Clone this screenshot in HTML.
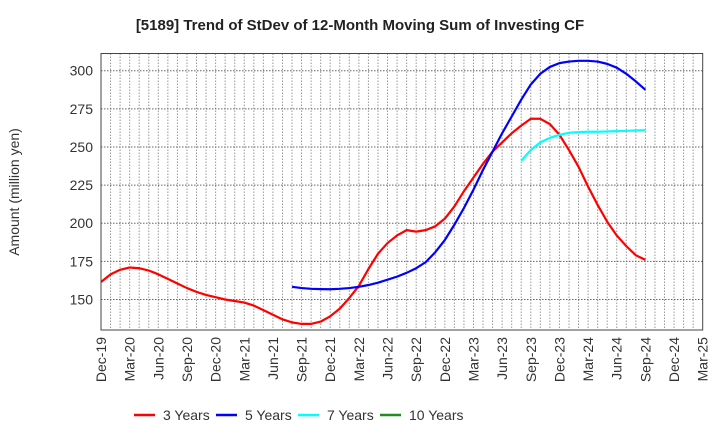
<!DOCTYPE html>
<html><head><meta charset="utf-8"><style>
body{margin:0;background:#fff;font-family:"Liberation Sans",sans-serif}
</style></head><body>
<svg id="c" width="720" height="440" xmlns="http://www.w3.org/2000/svg" font-family="Liberation Sans, sans-serif"></svg>
<script>
const tickLabels=["Dec-19","Mar-20","Jun-20","Sep-20","Dec-20","Mar-21","Jun-21","Sep-21","Dec-21","Mar-22","Jun-22","Sep-22","Dec-22","Mar-23","Jun-23","Sep-23","Dec-23","Mar-24","Jun-24","Sep-24","Dec-24","Mar-25"];
const yTicks=[150,175,200,225,250,275,300];
const s3Start=0;
const s3=[161.5,166.5,169.5,171,170.5,169,166.5,163.5,160.5,157.5,155,153,151.5,150,149,148,146,143,140,137,135,134,134,135.5,139,144,151,159,170,180,187,192,195.5,194.5,195.5,198,203,211,221,230,239,247,253,259,264,268.5,268.5,265,258,248,237,224,212,201,192,185,179,176];
const s5Start=20;
const s5=[158.3,157.5,157,156.8,156.7,157,157.5,158.3,159.5,161,163,165,167.5,170.5,174.5,181,189,199,210,222,235,247,259,270,281,291,298,302.5,305,306,306.5,306.5,306,304.5,302,298,293,287.5];
const s7Start=44;
const s7=[241,248,253,256,258,259.3,259.8,260,260,260.2,260.4,260.6,260.8,261];
const s10Start=0;
const s10=[];
const NS="http://www.w3.org/2000/svg";
const svg=document.getElementById('c');
const L=101,R=702.7,T=53.5,B=330,nMonths=63,yMin=130,yMax=311.3;
const x=m=>L+(R-L)*m/nMonths;
const y=v=>B-(B-T)*(v-yMin)/(yMax-yMin);
function mk(tag,attrs,parent){const e=document.createElementNS(NS,tag);for(const k in attrs)e.setAttribute(k,attrs[k]);(parent||svg).appendChild(e);return e;}
const t=mk('text',{x:360,y:30,'text-anchor':'middle','font-size':15,'font-weight':'bold',fill:'#222'});


t.textContent='[5189]  Trend of StDev of 12-Month Moving Sum of Investing CF';
const grid=mk('g',{});


for(let m=1;m<nMonths;m++){mk('line',{x1:x(m),x2:x(m),y1:T,y2:B,stroke:'#999','stroke-width':1,'stroke-dasharray':'1.5,1.5'},grid);}
for(let v=yMin+10;v<yMax;v+=5){if((v-150)%25===0)continue;}
yTicks.forEach(v=>{mk('line',{x1:L,x2:R,y1:y(v),y2:y(v),stroke:'#666','stroke-width':1,'stroke-dasharray':'1.5,1.5'},grid);});
const ya=mk('g',{});


yTicks.forEach(v=>{const e=mk('text',{x:L-8,y:y(v)+5,'text-anchor':'end','font-size':14,fill:'#333'},ya);e.textContent=v;});
const yt=mk('text',{x:19,y:192,'text-anchor':'middle','font-size':14,fill:'#333',transform:'rotate(-90 19 192)'});


yt.textContent='Amount (million yen)';
const xa=mk('g',{});


tickLabels.forEach((lb,i)=>{const xx=x(i*3)+5;const e=mk('text',{x:xx,y:337,'text-anchor':'end','font-size':14,fill:'#333',transform:`rotate(-90 ${xx} 337)`},xa);e.textContent=lb;});
const frame=mk('rect',{x:L,y:T,width:R-L,height:B-T,fill:'none',stroke:'#444','stroke-width':1});


function series(vals,start,color,name){if(!vals.length)return;const p=mk('polyline',{points:vals.map((v,i)=>x(start+i)+','+y(v)).join(' '),fill:'none',stroke:color,'stroke-width':2.2,'stroke-linejoin':'round'});}
series(s3,s3Start,'#ff0000','line-3-years');
series(s5,s5Start,'#0000ff','line-5-years');
series(s7,s7Start,'#00ffff','line-7-years');
series(s10,s10Start,'#228b22','line-10-years');
const leg=[['3 Years','#ff0000',134],['5 Years','#0000ff',216],['7 Years','#00ffff',298],['10 Years','#228b22',380]];
leg.forEach(([n,c,lx])=>{const g=mk('g',{});mk('line',{x1:lx,x2:lx+21,y1:415,y2:415,stroke:c,'stroke-width':2.5},g);const e=mk('text',{x:lx+29,y:420,'font-size':14,fill:'#333'},g);e.textContent=n;});
</script>
</body></html>
